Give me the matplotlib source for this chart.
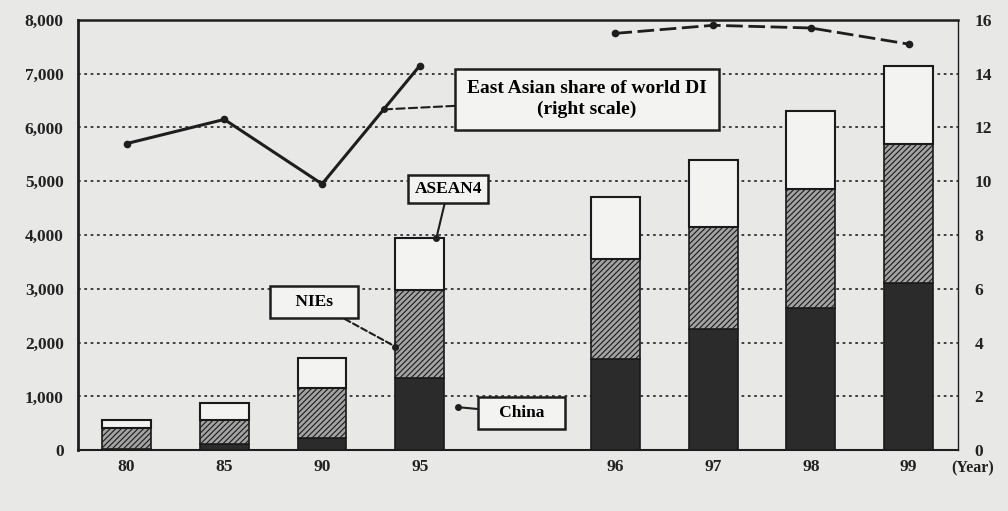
import numpy as np
import matplotlib.pyplot as plt

# Direct investment into East Asia, stacked by destination
years = ["80", "85", "90", "95", "96", "97", "98", "99"]
slots = [0, 1, 2, 3, 5, 6, 7, 8]   # blank slot between 95 and 96

china = [30, 110, 220, 1350, 1700, 2250, 2650, 3100]
nies = [380, 450, 930, 1630, 1850, 1900, 2200, 2600]
asean4 = [150, 320, 570, 970, 1150, 1250, 1450, 1450]

# East Asian share of world DI (%), right scale
share_early = [11.4, 12.3, 9.9, 14.3]   # 80, 85, 90, 95
share_late = [15.5, 15.8, 15.7, 15.1]   # 96 - 99

plt.rcParams['font.family'] = ['Liberation Serif', 'DejaVu Serif']
plt.rcParams['font.weight'] = 'bold'
plt.rcParams['hatch.linewidth'] = 0.8

bg = '#e8e8e6'
fig = plt.figure(figsize=(10.08, 5.11), dpi=100, facecolor=bg)
ax = fig.add_axes([0.077, 0.119, 0.873, 0.842], facecolor=bg)

x = np.array(slots, dtype=float)
w = 0.5
china = np.array(china)
nies = np.array(nies)
asean4 = np.array(asean4)

ax.bar(x, china, w, color='#2b2b2b', edgecolor='#1a1a1a', linewidth=1.2, zorder=3)
ax.bar(x, nies, w, bottom=china, color='#a3a3a3', edgecolor='#1a1a1a',
       hatch='//////', linewidth=1.2, zorder=3)
ax.bar(x, asean4, w, bottom=china + nies, color='#f3f3f1', edgecolor='#1a1a1a',
       linewidth=1.5, zorder=3)

ax.set_xlim(-0.5, 8.5)
ax.set_ylim(0, 8000)
ax.set_yticks(np.arange(0, 8001, 1000))
ax.set_yticklabels([f"{v:,}" for v in range(0, 8001, 1000)])
ax.set_xticks(x)
ax.set_xticklabels(years)
ax.tick_params(axis='both', length=0, labelsize=12.5, colors='#222222')
ax.tick_params(axis='y', pad=10)
ax.tick_params(axis='x', pad=6)

for v in range(1000, 8000, 1000):
    ax.axhline(v, color='#333333', linewidth=1.3, linestyle=(0, (1.5, 2)), zorder=1)

for side, lw in [('left', 2.0), ('top', 1.8), ('bottom', 1.5), ('right', 1.0)]:
    ax.spines[side].set_linewidth(lw)
    ax.spines[side].set_color('#1e1e1e')

ax2 = ax.twinx()
ax2.set_ylim(0, 16)
ax2.set_yticks(np.arange(0, 17, 2))
ax2.tick_params(axis='y', length=0, labelsize=12.5, colors='#222222', pad=12)
for s in ax2.spines.values():
    s.set_visible(False)

ax2.plot(x[:4], share_early, color='#1e1e1e', linewidth=2.2, marker='o',
         markersize=4.5, zorder=4)
ax2.plot(x[4:], share_late, color='#1e1e1e', linewidth=2.0, marker='o',
         markersize=4.5, zorder=4, linestyle=(0, (6, 2)))

ax.text(8.65, -330, "(Year)", fontsize=11.5, ha='center', va='center',
        color='#222222', clip_on=False)

box = dict(boxstyle='square,pad=0.4', facecolor='#f3f3f1', edgecolor='#1e1e1e',
           linewidth=1.8)
line = dict(arrowstyle='-', color='#1e1e1e', linewidth=1.5, shrinkA=0, shrinkB=0)

# Callout for the share line, pointing onto the 90-95 segment
px = 2.63
py = np.interp(px, x[:4], share_early)
ax2.annotate("East Asian share of world DI\n(right scale)", xy=(px, py),
             xytext=(4.71, 13.05), fontsize=14, ha='center', va='center',
             linespacing=1.3,
             bbox=dict(box, boxstyle='square,pad=0.6'),
             arrowprops=dict(line, linestyle=(0, (4, 2))), zorder=6)
ax2.plot(px, py, 'o', color='#1e1e1e', markersize=4, zorder=7)

# Series labels
top95 = china[3] + nies[3] + asean4[3]
ax2.annotate("ASEAN4", xy=(3.17, top95 / 500), xytext=(3.29, 9.72), fontsize=12.5,
             ha='center', va='center', bbox=dict(box, boxstyle='square,pad=0.35'),
             arrowprops=line, zorder=6)
ax2.plot(3.17, top95 / 500, 'o', color='#1e1e1e', markersize=4, zorder=7)

ax2.annotate("    NIEs    ", xy=(2.75, 3.85), xytext=(1.92, 5.5), fontsize=12.5,
             ha='center', va='center', bbox=dict(box, boxstyle='square,pad=0.45'),
             arrowprops=dict(line, linestyle=(0, (3, 1.5))), zorder=6)
ax2.plot(2.75, 3.85, 'o', color='#1e1e1e', markersize=4, zorder=7)

ax2.annotate("   China   ", xy=(3.39, 1.6), xytext=(4.04, 1.38), fontsize=12.5,
             ha='center', va='center', bbox=dict(box, boxstyle='square,pad=0.45'),
             arrowprops=line, zorder=6)
ax2.plot(3.39, 1.6, 'o', color='#1e1e1e', markersize=4, zorder=7)

fig.savefig("out.png", dpi=100, facecolor=bg)
